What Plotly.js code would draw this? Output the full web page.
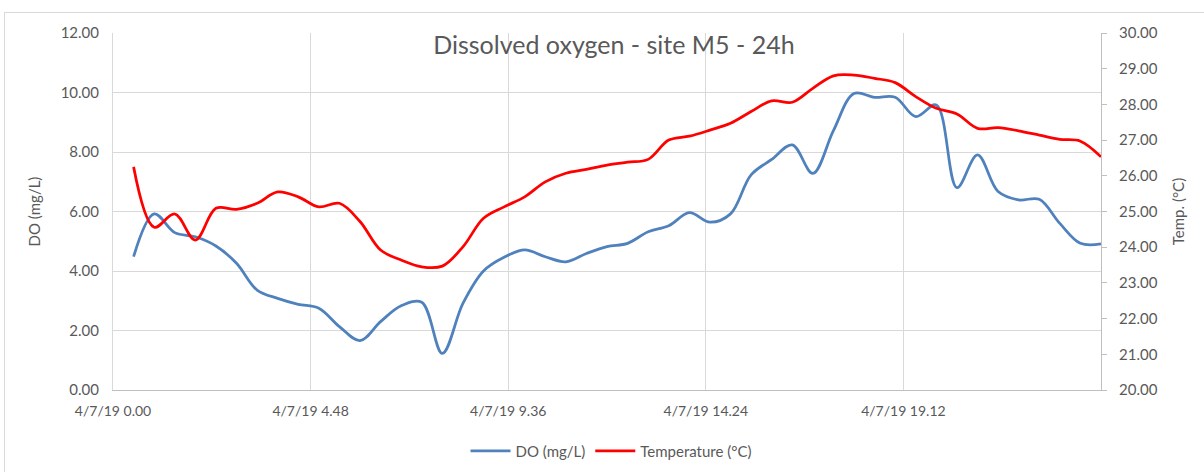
<!DOCTYPE html>
<html>
<head>
<meta charset="utf-8">
<script src="https://cdn.plot.ly/plotly-3.0.1.min.js"></script>
<style>
  html, body { margin: 0; padding: 0; background: #ffffff; overflow: hidden; }
  #wrap { position: relative; width: 1204px; height: 472px; }
  #frame { position: absolute; left: 4px; top: 12px; width: 1210px; height: 480px; border: 1px solid #d9d9d9; box-sizing: border-box; pointer-events: none; }
  #chart { position: absolute; left: 0; top: 0; width: 1204px; height: 472px; }
</style>
</head>
<body>
<div id="wrap">
  <div id="frame"></div>
  <div id="chart"></div>
</div>
<script>
// Sample times (4/7/19, every 30 minutes)
const times = [
  "2019-04-07 00:30","2019-04-07 01:00","2019-04-07 01:30","2019-04-07 02:00",
  "2019-04-07 02:30","2019-04-07 03:00","2019-04-07 03:30","2019-04-07 04:00",
  "2019-04-07 04:30","2019-04-07 05:00","2019-04-07 05:30","2019-04-07 06:00",
  "2019-04-07 06:30","2019-04-07 07:00","2019-04-07 07:30","2019-04-07 08:00",
  "2019-04-07 08:30","2019-04-07 09:00","2019-04-07 09:30","2019-04-07 10:00",
  "2019-04-07 10:30","2019-04-07 11:00","2019-04-07 11:30","2019-04-07 12:00",
  "2019-04-07 12:30","2019-04-07 13:00","2019-04-07 13:30","2019-04-07 14:00",
  "2019-04-07 14:30","2019-04-07 15:00","2019-04-07 15:30","2019-04-07 16:00",
  "2019-04-07 16:30","2019-04-07 17:00","2019-04-07 17:30","2019-04-07 18:00",
  "2019-04-07 18:30","2019-04-07 19:00","2019-04-07 19:30","2019-04-07 20:00",
  "2019-04-07 20:30","2019-04-07 21:00","2019-04-07 21:30","2019-04-07 22:00",
  "2019-04-07 22:30","2019-04-07 23:00","2019-04-07 23:30","2019-04-08 00:00"
];

// Dissolved oxygen (mg/L)
const doValues = [
  4.48, 5.92, 5.29, 5.15, 4.84, 4.26, 3.36, 3.08,
  2.88, 2.75, 2.13, 1.66, 2.30, 2.83, 2.95, 1.23,
  2.91, 4.00, 4.46, 4.71, 4.48, 4.31, 4.59, 4.82,
  4.93, 5.32, 5.52, 5.96, 5.64, 5.92, 7.23, 7.75,
  8.24, 7.28, 8.72, 9.97, 9.84, 9.84, 9.19, 9.58,
  6.80, 7.90, 6.67, 6.39, 6.41, 5.60, 4.93, 4.91
];

// Temperature (°C)
const tempValues = [
  26.25, 24.56, 24.93, 24.20, 25.09, 25.06, 25.23, 25.55,
  25.41, 25.13, 25.23, 24.72, 23.92, 23.64, 23.45, 23.47,
  24.01, 24.81, 25.13, 25.41, 25.83, 26.07, 26.18, 26.30,
  26.38, 26.46, 27.00, 27.11, 27.28, 27.47, 27.80, 28.10,
  28.06, 28.45, 28.80, 28.82, 28.73, 28.61, 28.22, 27.89,
  27.73, 27.33, 27.35, 27.26, 27.14, 27.02, 26.97, 26.53
];

// X axis ticks
const xTickVals = ["2019-04-07 00:00","2019-04-07 04:48","2019-04-07 09:36","2019-04-07 14:24","2019-04-07 19:12"];
const xTickText = ["4/7/19 0.00","4/7/19 4.48","4/7/19 9.36","4/7/19 14.24","4/7/19 19.12"];
const xRange = ["2019-04-07 00:00","2019-04-08 00:00"];

const FONT = "Lato, 'Open Sans', sans-serif";
const GREY = "#595959";

const traces = [
  {
    x: times, y: doValues, name: "DO (mg/L)", type: "scatter", mode: "lines",
    line: { color: "#4f81bd", width: 2.75, shape: "spline", smoothing: 1 },
    yaxis: "y"
  },
  {
    x: times, y: tempValues, name: "Temperature (°C)", type: "scatter", mode: "lines",
    line: { color: "#ff0000", width: 2.75, shape: "spline", smoothing: 1 },
    yaxis: "y2"
  }
];

const layout = {
  width: 1204, height: 472,
  margin: { l: 113, r: 103, t: 33, b: 82 },
  paper_bgcolor: "rgba(0,0,0,0)",
  plot_bgcolor: "#ffffff",
  font: { family: FONT, size: 14, color: GREY },
  title: {
    text: "Dissolved oxygen - site M5 - 24h",
    font: { family: FONT, size: 25, color: GREY, weight: 400 },
    xref: "paper", x: 0.507, xanchor: "center",
    yref: "container", y: 1 - 45/472, yanchor: "middle"
  },
  showlegend: true,
  legend: {
    orientation: "h",
    xref: "container", x: 611/1204, xanchor: "center",
    yref: "container", y: 1 - 451/472, yanchor: "middle",
    font: { family: FONT, size: 15, color: GREY },
    itemwidth: 40
  },
  xaxis: {
    type: "date",
    range: xRange,
    tickmode: "array",
    tickvals: xTickVals,
    ticktext: xTickText,
    showgrid: true, gridcolor: "#d9d9d9", gridwidth: 1,
    showline: true, linecolor: "#bfbfbf", linewidth: 1,
    ticks: "",
    zeroline: false,
    tickfont: { family: FONT, size: 14, color: GREY },
    ticklabelstandoff: 8,
    fixedrange: true
  },
  yaxis: {
    range: [0, 12], dtick: 2, tick0: 0,
    tickformat: ".2f",
    showgrid: true, gridcolor: "#d9d9d9", gridwidth: 1,
    showline: true, linecolor: "#d9d9d9", linewidth: 1,
    zeroline: false,
    ticks: "",
    ticklabelstandoff: 10,
    tickfont: { family: FONT, size: 15, color: GREY },
    title: { text: "DO (mg/L)", font: { family: FONT, size: 15, color: GREY }, standoff: 16 },
    fixedrange: true
  },
  yaxis2: {
    overlaying: "y", side: "right",
    range: [20, 30], dtick: 1, tick0: 20,
    tickformat: ".2f",
    showgrid: false,
    showline: true, linecolor: "#bfbfbf", linewidth: 1,
    ticks: "outside", ticklen: 5, tickcolor: "#bfbfbf",
    ticklabelstandoff: 9,
    zeroline: false,
    tickfont: { family: FONT, size: 15, color: GREY },
    title: { text: "Temp. (°C)", font: { family: FONT, size: 15, color: GREY }, standoff: 16 },
    fixedrange: true
  }
};

Plotly.newPlot("chart", traces, layout, { displayModeBar: false, staticPlot: true });
</script>
</body>
</html>
